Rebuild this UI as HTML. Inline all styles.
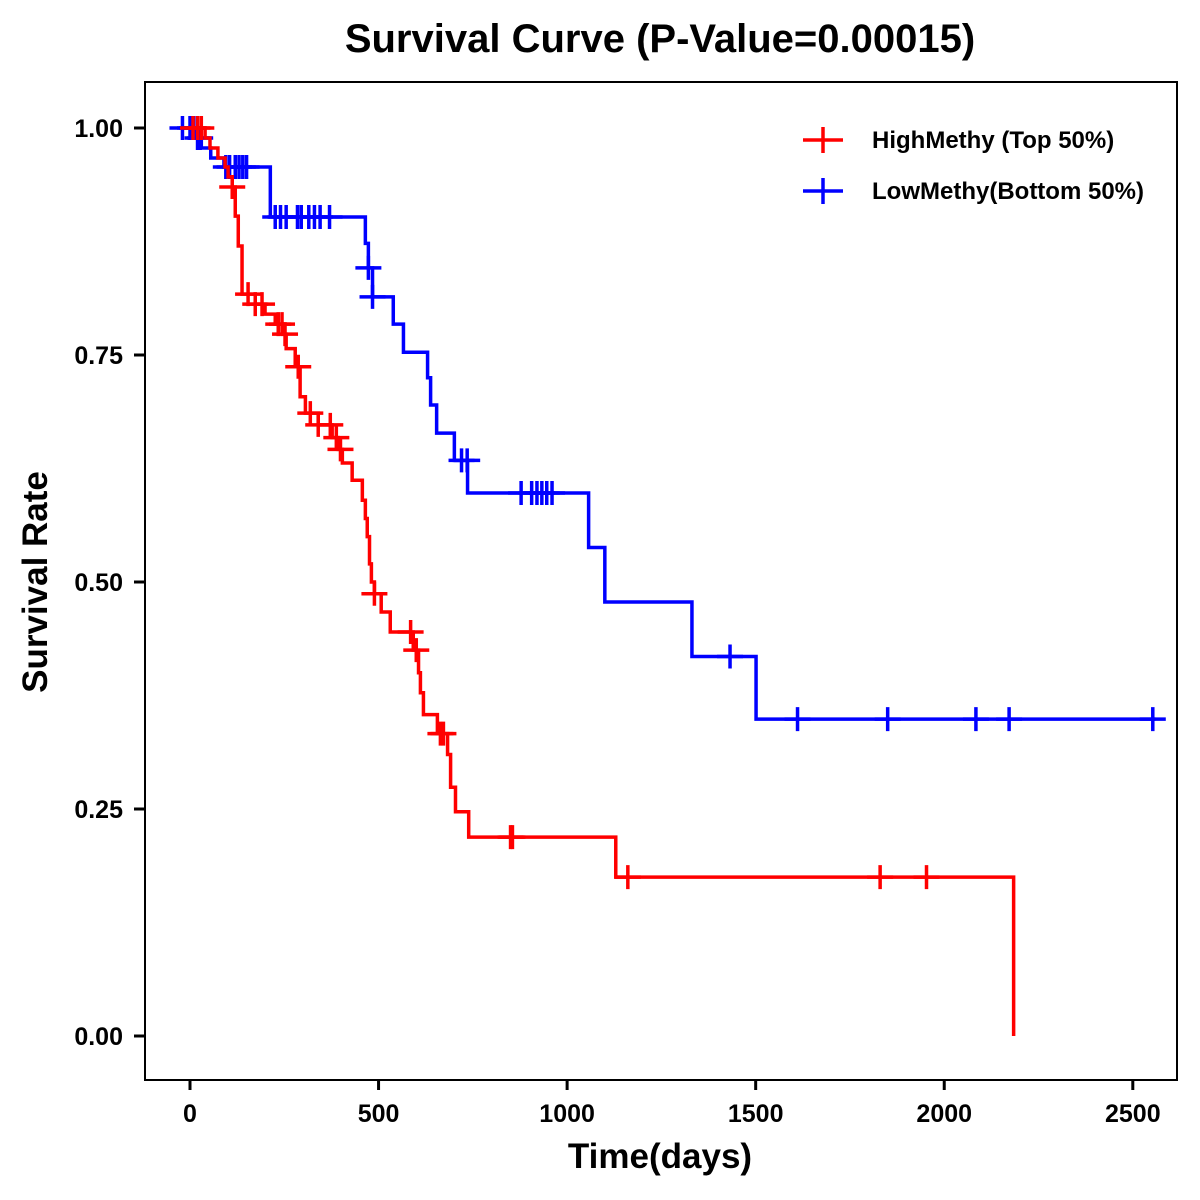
<!DOCTYPE html>
<html><head><meta charset="utf-8"><style>
html,body{margin:0;padding:0;background:#fff;}
svg{display:block;font-family:"Liberation Sans",Arial,sans-serif;}
</style></head><body>
<svg id="chart" width="1200" height="1200" viewBox="0 0 1200 1200">
<rect x="0" y="0" width="1200" height="1200" fill="#fff"/>
<text x="660" y="52" text-anchor="middle" font-size="40" font-weight="bold">Survival Curve (P-Value=0.00015)</text>
<g id="plot"></g>
<rect x="145" y="82" width="1032" height="998" fill="none" stroke="#000" stroke-width="2"/>
<g id="axes"></g>
<text x="660" y="1168" text-anchor="middle" font-size="35" font-weight="bold">Time(days)</text>
<text transform="translate(47,582) rotate(-90)" text-anchor="middle" font-size="35" font-weight="bold">Survival Rate</text>
<g>
<g>
<line x1="803" y1="140" x2="843" y2="140" stroke="#f00" stroke-width="3.5"/>
<line x1="823" y1="127" x2="823" y2="153" stroke="#f00" stroke-width="3.5"/>
<text x="872" y="148" font-size="24" font-weight="bold">HighMethy (Top 50%)</text>
</g>
<g>
<line x1="803" y1="191" x2="843" y2="191" stroke="#00f" stroke-width="3.5"/>
<line x1="823" y1="178" x2="823" y2="204" stroke="#00f" stroke-width="3.5"/>
<text x="872" y="199" font-size="24" font-weight="bold">LowMethy(Bottom 50%)</text>
</g>
</g>
</svg>
<script>
const xTicks = [0, 500, 1000, 1500, 2000, 2500];
const yTicks = [0, 0.25, 0.5, 0.75, 1.0];
const yTickLabels = ["0.00", "0.25", "0.50", "0.75", "1.00"];
// High methylation group: event times and survival after event
const highTimes = [40,53,74,93,101,112,120,128,138,173,199,226,247,255,279,292,306,340,377,393,404,430,457,465,470,476,481,489,507,531,592,606,611,619,656,683,691,704,739,1129,2184];
const highSurv = [0.989,0.978,0.967,0.957,0.946,0.935,0.903,0.870,0.817,0.806,0.795,0.784,0.773,0.757,0.737,0.704,0.686,0.673,0.659,0.646,0.631,0.612,0.590,0.570,0.550,0.520,0.500,0.487,0.467,0.445,0.425,0.400,0.378,0.354,0.333,0.310,0.274,0.247,0.219,0.175,0.0];
const highCensor = [8,20,30,112,154,173,191,234,244,252,287,319,340,372,388,399,489,585,600,664,672,850,855,1161,1830,1953];
const highEnd = 2184;
// Low methylation group
const lowTimes = [15,30,55,90,213,465,473,484,539,566,630,638,654,701,736,1057,1100,1331,1501];
const lowSurv = [0.989,0.978,0.967,0.957,0.902,0.873,0.846,0.814,0.784,0.753,0.725,0.695,0.664,0.634,0.598,0.538,0.478,0.418,0.349];
const lowCensor = [-20,0,5,10,20,27,95,105,120,130,140,150,226,240,255,285,295,315,330,345,370,473,484,720,735,878,906,920,933,946,960,1432,1611,1850,2084,2172,2553];
const lowEnd = 2560;

const NS="http://www.w3.org/2000/svg";
const xs = t => 190 + t*0.37712;
const ys = s => 1036 - s*908;
function mk(tag, attrs, parent){const e=document.createElementNS(NS,tag);for(const k in attrs)e.setAttribute(k,attrs[k]);parent.appendChild(e);return e;}
const axes=document.getElementById('axes');
xTicks.forEach((v,i)=>{
  const l=mk('line',{x1:xs(v),x2:xs(v),y1:1080,y2:1090,stroke:'#000','stroke-width':3},axes);
  
  
  const t=mk('text',{x:xs(v),y:1122,'text-anchor':'middle','font-size':25,'font-weight':'bold'},axes);
  t.textContent=String(v);
  
  
});
yTicks.forEach((v,i)=>{
  const l=mk('line',{x1:134,x2:145,y1:ys(v),y2:ys(v),stroke:'#000','stroke-width':3},axes);
  
  
  const t=mk('text',{x:123,y:ys(v)+9,'text-anchor':'end','font-size':25,'font-weight':'bold'},axes);
  t.textContent=yTickLabels[i];
  
  
});
function survAt(times,surv,t){let s=1;for(let i=0;i<times.length;i++){if(times[i]<=t)s=surv[i];}return s;}
const plot=document.getElementById('plot');
function drawSeries(times,surv,cens,end,color,name){
  let d='M'+xs(Math.min(0,cens[0]))+' '+ys(1);
  for(let i=0;i<times.length;i++){d+=' H'+xs(times[i])+' V'+ys(surv[i]);}
  d+=' H'+xs(Math.max(end,times[times.length-1]));
  const p=mk('path',{d:d,fill:'none',stroke:color,'stroke-width':3.5},plot);
  
  
  cens.forEach(c=>{
    const v=survAt(times,surv,c);
    const g=mk('path',{d:'M'+(xs(c)-13)+' '+ys(v)+' H'+(xs(c)+13)+' M'+xs(c)+' '+(ys(v)-12)+' V'+(ys(v)+12),stroke:color,'stroke-width':3.5,fill:'none'},plot);
    
    
  });
}
drawSeries(lowTimes,lowSurv,lowCensor,lowEnd,'#0000ff','low-methy');
drawSeries(highTimes,highSurv,highCensor,highEnd,'#ff0000','high-methy');
</script>
</body></html>
